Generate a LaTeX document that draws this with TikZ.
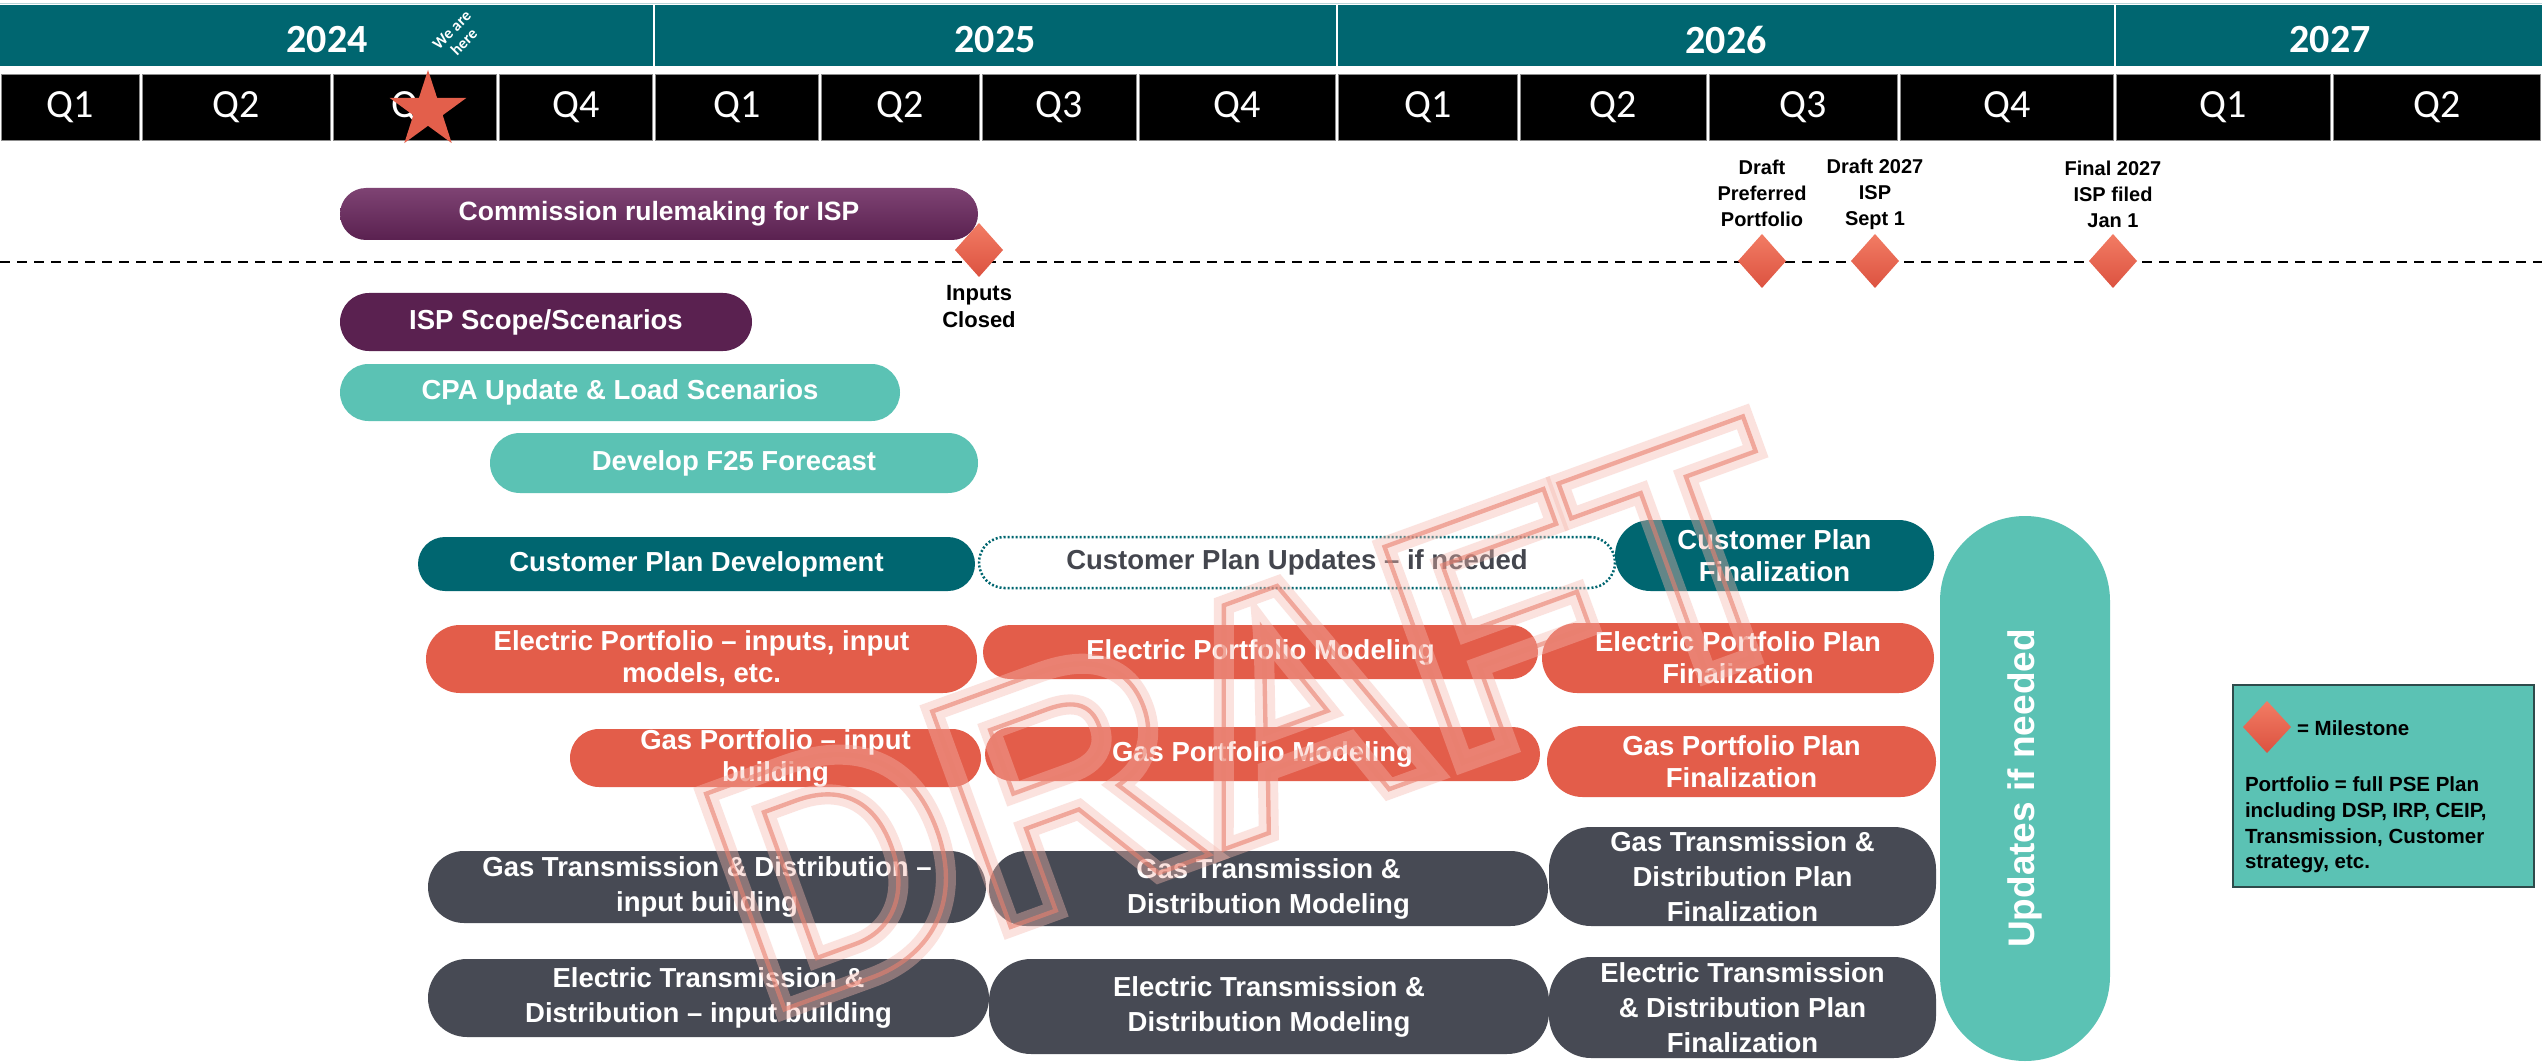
\documentclass[tikz,border=0pt]{standalone}
\usepackage{fontspec}
\setmainfont{Liberation Sans}
\newfontfamily\hdrfont{Carlito}
\usetikzlibrary{shapes.geometric}
\definecolor{hdrteal}{HTML}{006670}
\definecolor{plum}{HTML}{5A2150}
\definecolor{plumlight}{HTML}{7E4373}
\definecolor{mint}{HTML}{5BC2B4}
\definecolor{coral}{HTML}{E35D4A}
\definecolor{slate}{HTML}{474A54}
\definecolor{slatetext}{HTML}{44464E}
\definecolor{starred}{HTML}{E35F4B}
\definecolor{msA}{HTML}{F27C64}
\definecolor{msB}{HTML}{DC5240}
\definecolor{legendborder}{HTML}{2E4B4B}
\definecolor{cellgrey}{HTML}{8C8C8C}
\definecolor{topline}{HTML}{B9D5D8}
\definecolor{wmglow}{HTML}{F5B8AE}
\definecolor{wmline}{HTML}{E9806F}
\newcommand\outlineon[1]{\special{pdf:literal direct 1 Tr #1 w}}
\newcommand\outlineoff{\special{pdf:literal direct 0 Tr}}
\begin{document}
\begin{tikzpicture}[x=0.3pt,y=-0.3pt,
  every node/.style={inner sep=0pt, outer sep=0pt},
  sz/.style 2 args={minimum width=#1*0.3pt, minimum height=#2*0.3pt},
  rc/.style={rounded corners=#1*0.3pt},
  pill/.style={align=center, text=white, font=\bfseries\fontsize{8.25pt}{9.6pt}\selectfont},
  purplebar/.style={pill, fill=plum},
  purpleshade/.style={pill, top color=plumlight, bottom color=plum},
  mintbar/.style={pill, fill=mint},
  tealbar/.style={pill, fill=hdrteal},
  dotbar/.style={pill, fill=white, draw=hdrteal, line width=0.75pt, dash pattern=on 0.6pt off 0.6pt, text=slatetext},
  coralbar/.style={pill, fill=coral},
  slatebar/.style={pill, fill=slate, font=\bfseries\fontsize{8.25pt}{10.5pt}\selectfont},
  yearlab/.style={text=white, font=\hdrfont\bfseries\fontsize{12pt}{12pt}\selectfont},
  qlab/.style={text=white, font=\hdrfont\fontsize{12pt}{12pt}\selectfont},
  qcell/.style={fill=black, draw=cellgrey, line width=0.2pt},
  heretext/.style={text=white, align=center, font=\hdrfont\bfseries\fontsize{4.8pt}{5.2pt}\selectfont},
  msline/.style={black, line width=0.55pt, dash pattern=on 3pt off 2.1pt},
  milestone/.style={diamond, shape aspect=0.89, minimum width=14.4pt, minimum height=16.2pt, top color=msA, bottom color=msB},
  mslabel/.style={align=center, text=black, font=\bfseries\fontsize{6pt}{7.8pt}\selectfont},
  inputslabel/.style={align=center, text=black, font=\bfseries\fontsize{6.6pt}{8.1pt}\selectfont},
  legendbox/.style={fill=mint, draw=legendborder, line width=0.6pt},
  legtext/.style={text=black, align=left, font=\bfseries\fontsize{6.15pt}{7.7pt}\selectfont},
  updtext/.style={pill, fill=mint, font=\bfseries\fontsize{11.1pt}{12pt}\selectfont},
  watermark/.style={font=\bfseries\fontsize{100pt}{100pt}\selectfont}
]
\useasboundingbox (0,0) rectangle (2542,1064);
\fill[white] (0,0) rectangle (2542,1064);

% header years
\draw[topline, line width=0.3pt] (0,4) -- (2542,4);
\fill[hdrteal] (0,5) rectangle (2542,66);
\foreach \x in {654,1337,2115} \draw[white, line width=0.6pt] (\x,5) -- (\x,66);
\node[yearlab] (y2024) at (327,39.5) {2024};
\node[yearlab] (y2025) at (995,39.5) {2025};
\node[yearlab] (y2026) at (1726,39.5) {2026};
\node[yearlab] (y2027) at (2330,39.5) {2027};

% quarter cells
\foreach \a/\b/\q [count=\i] in {0/141/Q1,141/332/Q2,332/498/Q3,498/654/Q4,654/820/Q1,820/981/Q2,981/1138/Q3,1138/1337/Q4,1337/1519/Q1,1519/1708/Q2,1708/1899/Q3,1899/2115/Q4,2115/2332/Q1,2332/2542/Q2}{
  \draw[qcell] (\a+1.5,74) rectangle (\b-1.5,140);
  \node[qlab] (q\i) at ({(\a+\b)/2},107) {\q};
}

% star "we are here"
\coordinate (starc) at (428,110.4);
\fill[starred] (428,70) -- (437.1,97.9) -- (466.4,97.9) -- (442.7,115.2) -- (451.7,143.1) -- (428,125.8) -- (404.3,143.1) -- (413.3,115.2) -- (389.6,97.9) -- (418.9,97.9) -- cycle;
\node[heretext, rotate=45] (here) at (458,36) {We are\\here};

% milestone line
\coordinate (dl) at (0,262);
\coordinate (dr) at (2542,262);
\draw[msline] (dl) -- (dr);

% bars
\node[purpleshade, sz={638}{52}, rc=26, font=\bfseries\fontsize{7.95pt}{9.6pt}\selectfont] (comm) at (659,214) {Commission rulemaking for ISP};
\node[purplebar, sz={412}{58}, rc=29] (scope) at (546,322) {ISP Scope/Scenarios};
\node[mintbar, sz={560}{57}, rc=28.5] (cpa) at (620,392.5) {CPA Update \& Load Scenarios};
\node[mintbar, sz={488}{60}, rc=30] (f25) at (734,463) {Develop F25 Forecast};

\node[tealbar, sz={557}{54}, rc=27] (cpd) at (696.5,564) {Customer Plan Development};
\node[dotbar, sz={636}{51}, rc=25.5] (cpu) at (1297,562.5) {Customer Plan Updates – if needed};
\node[tealbar, sz={319}{71}, rc=35.5] (cpf) at (1774.5,555.5) {Customer Plan\\Finalization};

\node[coralbar, sz={551}{68}, rc=34] (epi) at (701.5,659) {Electric Portfolio – inputs, input\\models, etc.};
\node[coralbar, sz={555}{54}, rc=27] (epm) at (1260.5,652) {Electric Portfolio Modeling};
\node[coralbar, sz={392}{70}, rc=35] (eppf) at (1738,658) {Electric Portfolio Plan\\Finalization};

\node[coralbar, sz={411}{58}, rc=29] (gpi) at (775.5,758) {Gas Portfolio – input\\building};
\node[coralbar, sz={555}{54}, rc=27] (gpm) at (1262.5,754) {Gas Portfolio Modeling};
\node[coralbar, sz={389}{71}, rc=35.5] (gppf) at (1741.5,761.5) {Gas Portfolio Plan\\Finalization};

\node[slatebar, sz={558}{72}, rc=36] (gtdi) at (707,887) {Gas Transmission \& Distribution –\\input building};
\node[slatebar, sz={559}{75}, rc=37.5] (gtdm) at (1268.5,888.5) {Gas Transmission \&\\Distribution Modeling};
\node[slatebar, sz={387}{99}, rc=42] (gtdpf) at (1742.5,876.5) {Gas Transmission \&\\Distribution Plan\\Finalization};

\node[slatebar, sz={561}{78}, rc=39] (etdi) at (708.5,998) {Electric Transmission \&\\Distribution – input building};
\node[slatebar, sz={560}{95}, rc=42] (etdm) at (1269,1006.5) {Electric Transmission \&\\Distribution Modeling};
\node[slatebar, sz={387}{101}, rc=42] (etdpf) at (1742.5,1007.5) {Electric Transmission\\\& Distribution Plan\\Finalization};

\node[updtext, rotate=90, sz={545}{170}, rc=85] (upd) at (2025,788.5) {Updates if needed};

% milestones
\node[milestone] (m1) at (979,250) {};
\node[inputslabel] (m1t) at (979,307) {Inputs\\Closed};
\node[milestone] (m2) at (1762,261) {};
\node[mslabel] (m2t) at (1762,193) {Draft\\Preferred\\Portfolio};
\node[milestone] (m3) at (1875,261) {};
\node[mslabel] (m3t) at (1875,194) {Draft 2027\\ISP\\Sept 1};
\node[milestone] (m4) at (2113,261) {};
\node[mslabel] (m4t) at (2113,194) {Final 2027\\ISP filed\\Jan 1};

% legend
\node[legendbox, sz={301}{202}] (legend) at (2383.5,786) {};
\node[milestone, minimum width=14.4pt, minimum height=15.6pt] (lm) at (2267,727) {};
\node[legtext, anchor=west] (lmt) at (2297,728) {= Milestone};
\node[legtext, anchor=north west] (lpt) at (2245,777) {Portfolio = full PSE Plan\\including DSP, IRP, CEIP,\\Transmission, Customer\\strategy, etc.};

% watermark
\begin{scope}[opacity=0.4]
\node[watermark, text=wmglow, rotate=20] (draftglow) at (1255,716) {\outlineon{6}DRAFT\outlineoff};
\end{scope}
\begin{scope}[opacity=0.6]
\node[watermark, text=wmline, rotate=20] (draft) at (1255,716) {\outlineon{1.3}DRAFT\outlineoff};
\end{scope}
\end{tikzpicture}
\end{document}
